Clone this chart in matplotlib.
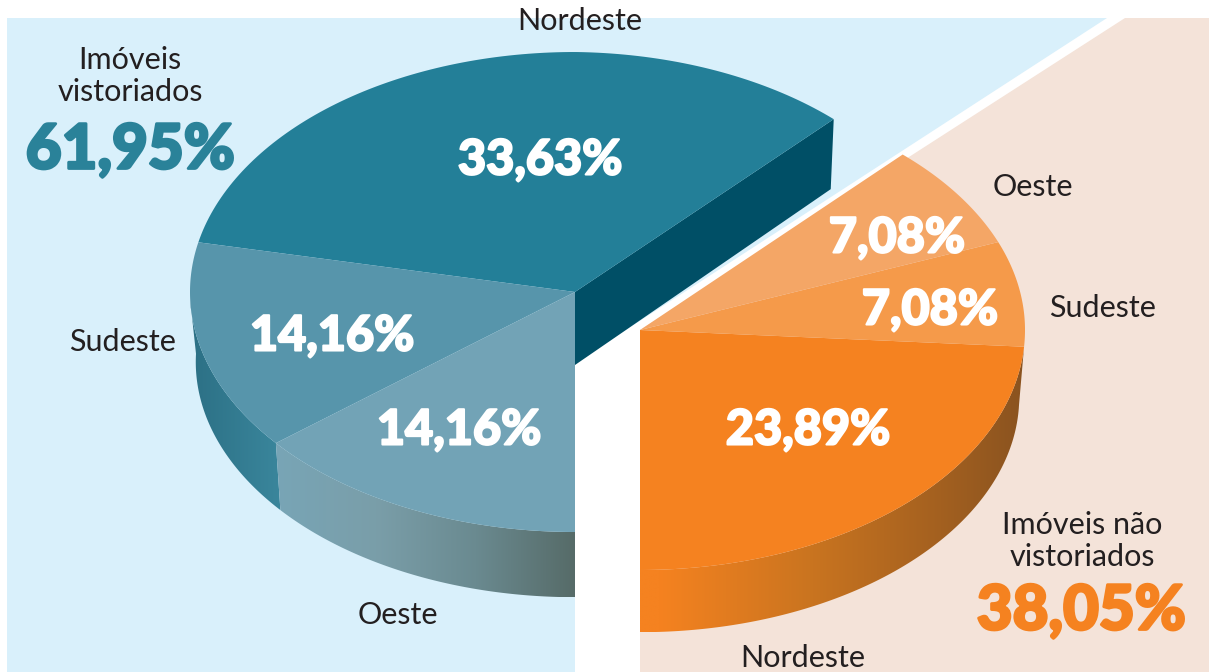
import numpy as np
import matplotlib
matplotlib.use('Agg')
import matplotlib.pyplot as plt
import matplotlib.patheffects as pe
from matplotlib.colors import LinearSegmentedColormap
from matplotlib.patches import Polygon

plt.rcParams['font.family'] = ['Lato', 'DejaVu Sans']

# share of properties by region, in percent
left_regions = ['Nordeste', 'Sudeste', 'Oeste']
left_shares = [33.63, 14.16, 14.16]
left_colors = ['#237f98', '#5795ab', '#72a3b6']
right_regions = ['Nordeste', 'Sudeste', 'Oeste']
right_shares = [23.89, 7.08, 7.08]
right_colors = ['#f58220', '#f59a4a', '#f4a666']
left_total = 61.95
right_total = 38.05

INK = '#231f20'


def pct(v):
    return f'{v:.2f}%'.replace('.', ',')


def arc(cx, cy, rx, ry, a0, a1, n=120):
    deg = np.linspace(a0, a1, n)
    t = np.radians(deg)
    return np.column_stack([cx + rx * np.cos(t), cy - ry * np.sin(t)]), deg


def top_arc_left(cx, cy, rx, ry, a0, a1):
    # the printed pie is a bit flatter towards its upper right corner
    p, deg = arc(cx, cy, rx, ry, a0, a1)
    s = 1 - 0.015 * np.clip((90 - deg) / 43, 0, 1)
    return [cx, cy] + (p - [cx, cy]) * s[:, None]


def gradient(ax, pts, colors):
    # horizontal gradient clipped to the polygon
    cmap = LinearSegmentedColormap.from_list('g', colors)
    poly = Polygon(pts, closed=True, fc='none', ec='none')
    ax.add_patch(poly)
    x0, x1 = pts[:, 0].min(), pts[:, 0].max()
    y0, y1 = pts[:, 1].min(), pts[:, 1].max()
    im = ax.imshow(np.linspace(0, 1, 256).reshape(1, -1), cmap=cmap, aspect='auto',
                   extent=[x0, x1, y1, y0], zorder=2, interpolation='bilinear')
    im.set_clip_path(poly)


def side(ax, cx, cy, rx, ry, depth, a0, a1, colors, b0=None, b1=None):
    top = arc(cx, cy, rx, ry, a0, a1)[0]
    bot = arc(cx, cy + depth, rx * 0.985, ry * 0.98, a0 if b0 is None else b0, a1 if b1 is None else b1)[0]
    gradient(ax, np.vstack([top, bot[::-1]]), colors)


def big(ax, x, y, s, color, size, stroke=1.5):
    t = ax.text(x, y, s, color=color, fontsize=size, fontweight='black', ha='center', va='center', zorder=5)
    t.set_path_effects([pe.withStroke(linewidth=stroke, foreground=color)])


fig = plt.figure(figsize=(12.09, 6.72), dpi=100)
ax = fig.add_axes([0, 0, 1, 1])

# backgrounds
ax.add_patch(Polygon([(7, 18), (1107, 18), (575, 363), (575, 672), (7, 672)], fc='#d9f0fb', ec='none', zorder=0))
ax.add_patch(Polygon([(1125, 18), (1209, 18), (1209, 672), (640, 672), (640, 330)], fc='#f4e3d9', ec='none', zorder=0))

# left pie
lx, ly, rx, ry = 575, 292, 385, 240
depth = 70
edges = (270.0 - 3.6 * np.cumsum([0] + left_shares[::-1]))[::-1]

pt = top_arc_left(lx, ly, rx, ry, edges[0], edges[0])[0]
ax.add_patch(Polygon([(lx, ly), pt, pt + (-3, 70), (lx, ly + 73)], fc='#004f66', ec='none', zorder=1))
side(ax, lx, ly, rx, ry, depth, 182, edges[2], ['#2c7085', '#3a869c'], b0=178)
side(ax, lx, ly, rx, ry, depth, edges[2], edges[3], ['#78a5b6', '#7a9ea9', '#6a8a90', '#566b68'])
for i, c in enumerate(left_colors):
    p = np.vstack([[lx, ly], top_arc_left(lx, ly, rx, ry, edges[i], edges[i + 1])])
    ax.add_patch(Polygon(p, fc=c, ec='none', zorder=3))

# right pie
ox, oy = 640, 330
d2 = 67
e2 = 270 + 3.6 * np.cumsum([0] + right_shares)
side(ax, ox, oy, rx, ry, d2, 270, e2[1], [(0, '#f58220'), (0.05, '#f58220'), (0.45, '#c9741f'), (1, '#8a5320')], b1=358)
for i, c in enumerate(right_colors):
    p = np.vstack([[ox, oy], arc(ox, oy, rx, ry, e2[i], e2[i + 1])[0]])
    ax.add_patch(Polygon(p, fc=c, ec='none', zorder=3))

# slice values
for (x, y), v in zip([(540, 160), (332, 336), (459, 430)], left_shares):
    big(ax, x, y, pct(v), 'white', 35)
for (x, y), v in zip([(808, 430), (930, 310), (897, 238)], right_shares):
    big(ax, x, y, pct(v), 'white', 35)

# region labels
for (x, y), s in zip([(580, 21), (122, 342), (398, 615)], left_regions):
    ax.text(x, y, s, fontsize=22, color=INK, ha='center', va='center', zorder=5)
for (x, y), s in zip([(803, 658), (1103, 308), (1033, 187)], right_regions):
    ax.text(x, y, s, fontsize=22, color=INK, ha='center', va='center', zorder=5)

# totals
ax.text(130, 60, 'Imóveis', fontsize=22, color=INK, ha='center', va='center', zorder=5)
ax.text(130, 92, 'vistoriados', fontsize=22, color=INK, ha='center', va='center', zorder=5)
big(ax, 130, 150, pct(left_total), '#2a8299', 44.5, 2)
ax.text(1082, 525, 'Imóveis não', fontsize=22, color=INK, ha='center', va='center', zorder=5)
ax.text(1082, 557, 'vistoriados', fontsize=22, color=INK, ha='center', va='center', zorder=5)
big(ax, 1081, 611, pct(right_total), '#f58220', 44.5, 2)

ax.set_xlim(0, 1209)
ax.set_ylim(672, 0)
ax.axis('off')

fig.savefig('out.png', dpi=100)
